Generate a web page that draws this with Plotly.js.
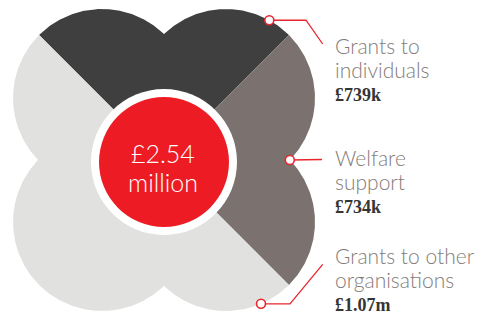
<!DOCTYPE html>
<html><head><meta charset="utf-8">
<script src="https://cdn.plot.ly/plotly-3.0.1.min.js"></script>
<style>html,body{margin:0;padding:0;background:#fff;overflow:hidden}#chart{width:481px;height:314px}</style>
</head><body><div id="chart"></div>
<script>
// ---- data ----
const categories = ["Grants to individuals", "Welfare support", "Grants to other organisations"];
const labelLines = [["Grants to", "individuals"], ["Welfare", "support"], ["Grants to other", "organisations"]];
const amountsK = [739, 734, 1070];
const amountLabels = ["£739k", "£734k", "£1.07m"];
const sliceDegrees = [90, 90, 180];          // angular extent of each sector as drawn
const leaderAngles = [53, 0, -56];           // where each leader touches the flower
const sliceColors = ["#3f3f3f", "#7b716e", "#e1e2e0"];

// ---- geometry / style ----
const CX = 164, CY = 160;      // flower centre (pixel-like data units)
const A = 62, R = 89;          // petal circle offset and radius
const START = 135;             // first sector starts at upper-left, goes clockwise
const RED = "#ed1c24", LINE_RED = "#e8262d", LABEL_GREY = "#847c79", VALUE_DARK = "#353535";
const LABEL_X = 333;
const groupBaselines = [53.3, 165.7, 264];
const elbows = [[306, 19.3], null, [290, 303.3]];
const leaderEnds = [[322.7, 44], [322, 159.5], [322.7, 264.3]];

function rayR(deg) {
  const t = deg * Math.PI / 180, ux = Math.cos(t), uy = Math.sin(t);
  let best = 0;
  for (const sx of [-1, 1]) for (const sy of [-1, 1]) {
    const cx = sx * A, cy = sy * A;
    const b = ux * cx + uy * cy;
    const disc = b * b - (cx * cx + cy * cy) + R * R;
    if (disc >= 0) { const r = b + Math.sqrt(disc); if (r > best) best = r; }
  }
  return best;
}
function pt(deg, r) {
  const t = deg * Math.PI / 180;
  return [CX + r * Math.cos(t), CY - r * Math.sin(t)];
}

const traces = [];
let a0 = START;
sliceDegrees.forEach((d, i) => {
  const a1 = a0 - d;
  const xs = [CX], ys = [CY];
  for (let a = a0; a >= a1 - 1e-9; a -= 0.25) {
    const p = pt(a, rayR(a)); xs.push(p[0]); ys.push(p[1]);
  }
  xs.push(CX); ys.push(CY);
  traces.push({
    type: "scatter", mode: "lines", x: xs, y: ys, fill: "toself",
    fillcolor: sliceColors[i], line: { width: 0, color: sliceColors[i] },
    name: categories[i], hoverinfo: "skip", showlegend: false
  });
  a0 = a1;
});

// leader lines
const markerX = [], markerY = [];
leaderAngles.forEach((ang, i) => {
  const p = pt(ang, rayR(ang));
  markerX.push(p[0]); markerY.push(p[1]);
  const xs = [p[0]], ys = [p[1]];
  if (elbows[i]) { xs.push(elbows[i][0]); ys.push(p[1]); }
  xs.push(leaderEnds[i][0]); ys.push(leaderEnds[i][1]);
  traces.push({ type: "scatter", mode: "lines", x: xs, y: ys,
    line: { color: LINE_RED, width: 1.3 }, hoverinfo: "skip", showlegend: false });
});
traces.push({ type: "scatter", mode: "markers", x: markerX, y: markerY,
  marker: { size: 9, color: "#ffffff", line: { color: LINE_RED, width: 1.6 } },
  hoverinfo: "skip", showlegend: false });

const total = amountsK.reduce((s, v) => s + v, 0);
const totalText = ["£" + (total / 1000).toFixed(2), "million"];

const annotations = [];
const SANS = { family: "'Lato Light', Lato, 'Open Sans', sans-serif", size: 21, color: LABEL_GREY, weight: 300 };
const SERIF = { family: "'Liberation Serif', 'DejaVu Serif', serif", size: 18, color: VALUE_DARK, weight: 700 };
labelLines.forEach((lines, i) => {
  const b = groupBaselines[i];
  lines.forEach((t, j) => {
    annotations.push({ x: LABEL_X, y: b + 24 * j - 0.39 * SANS.size, xref: "x", yref: "y",
      text: t, showarrow: false, xanchor: "left", yanchor: "middle", font: SANS });
  });
  annotations.push({ x: LABEL_X, y: b + 47.5 - 0.337 * SERIF.size, xref: "x", yref: "y",
    text: amountLabels[i], showarrow: false, xanchor: "left", yanchor: "middle", font: SERIF });
});
const CENTER_FONT = { family: "'Lato Light', Lato, 'Open Sans', sans-serif", size: 25, color: "#ffffff", weight: 300 };
[163, 192].forEach((b, j) => {
  annotations.push({ x: 163, y: b - 0.39 * CENTER_FONT.size, xref: "x", yref: "y",
    text: totalText[j], showarrow: false, xanchor: "center", yanchor: "middle", font: CENTER_FONT });
});

const RC = [164, 162];
const shapes = [
  { type: "circle", xref: "x", yref: "y", x0: RC[0] - 73, x1: RC[0] + 73, y0: RC[1] - 73, y1: RC[1] + 73,
    fillcolor: "#ffffff", line: { width: 0 }, layer: "above" },
  { type: "circle", xref: "x", yref: "y", x0: RC[0] - 65, x1: RC[0] + 65, y0: RC[1] - 65, y1: RC[1] + 65,
    fillcolor: RED, line: { width: 0 }, layer: "above" }
];

const layout = {
  width: 481, height: 314, margin: { l: 0, r: 0, t: 0, b: 0 },
  paper_bgcolor: "#ffffff", plot_bgcolor: "#ffffff",
  xaxis: { range: [0, 481], visible: false, fixedrange: true },
  yaxis: { range: [314, 0], visible: false, fixedrange: true },
  showlegend: false, shapes: shapes, annotations: annotations, hovermode: false
};
Plotly.newPlot("chart", traces, layout, { staticPlot: true, displayModeBar: false });
</script></body></html>
